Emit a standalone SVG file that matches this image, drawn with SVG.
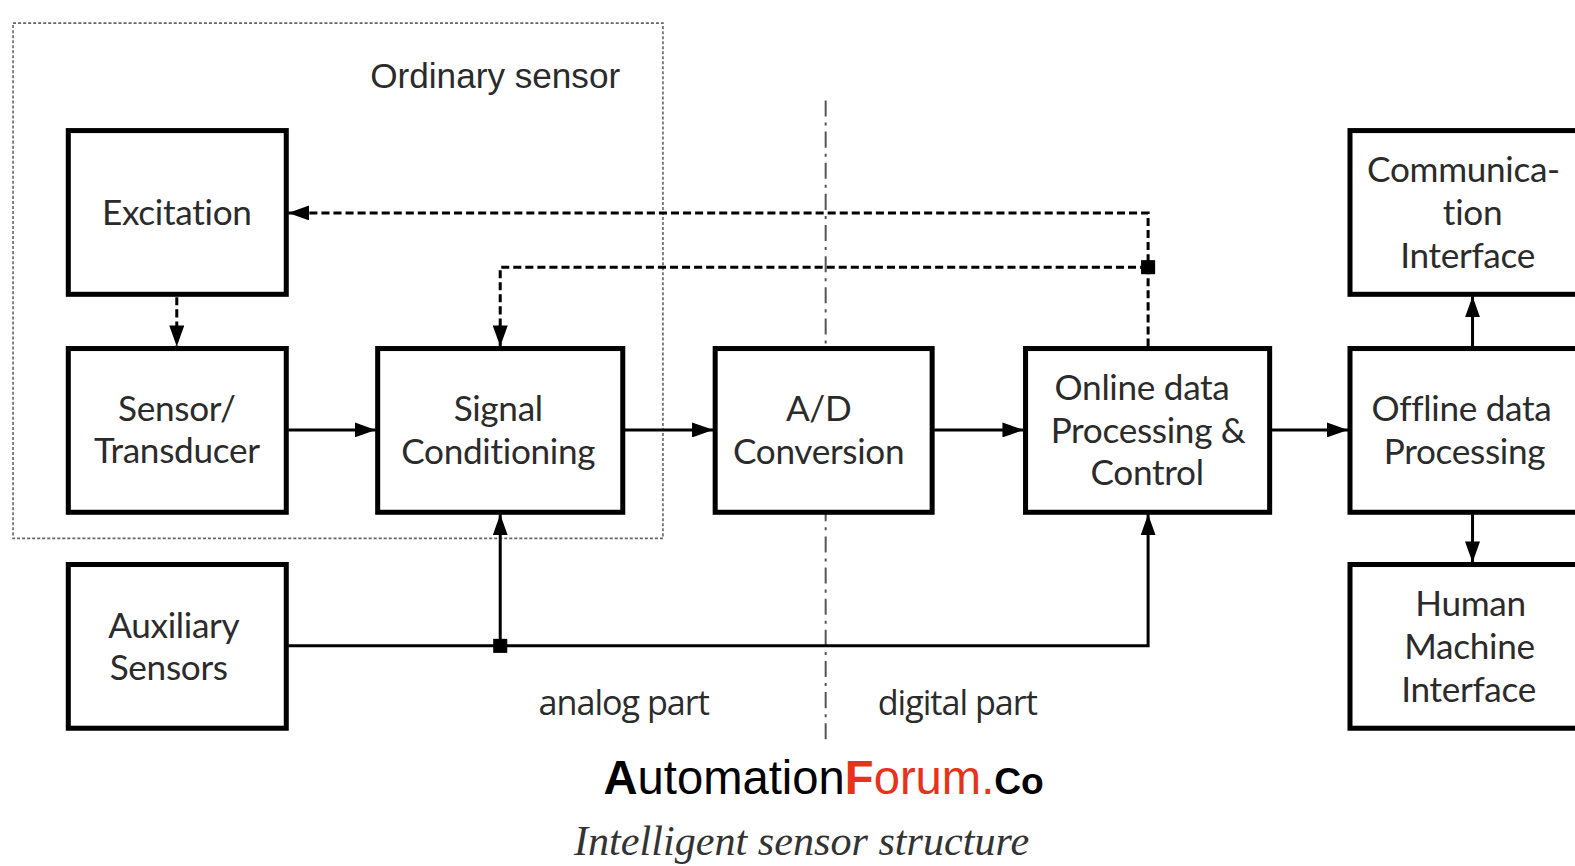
<svg xmlns="http://www.w3.org/2000/svg" width="1575" height="866" viewBox="0 0 1575 866">
  <style>
    .box { fill: #fff; stroke: #000; stroke-width: 5; }
    .lbl { font-family: Lato, "Open Sans", sans-serif; font-size: 35px; fill: #2b2b2b; text-anchor: middle; letter-spacing: -0.3px; }
    .wire { fill: none; stroke: #000; stroke-width: 3; }
    .dash { fill: none; stroke: #000; stroke-width: 3; stroke-dasharray: 8 4; }
    .frame { fill: none; stroke: #666; stroke-width: 1.6; stroke-dasharray: 3 2; }
    .divider { fill: none; stroke: #555; stroke-width: 2; stroke-dasharray: 16 6 3 6; }
    .note { font-family: "Open Sans", "Noto Sans", sans-serif; font-size: 34px; fill: #2b2b2b; text-anchor: middle; letter-spacing: -1px; }
    .title { font-family: "Liberation Sans", Arial, sans-serif; font-size: 35px; fill: #2b2b2b; text-anchor: middle; }
  </style>
  <defs>
    <marker id="arrow" viewBox="0 0 14 10" refX="14" refY="5" markerWidth="7" markerHeight="5" markerUnits="strokeWidth" orient="auto">
      <path d="M0,0 L14,5 L0,10 z" fill="#000"/>
    </marker>
  </defs>

  <rect width="1575" height="866" fill="#fff"/>

  <g transform="scale(1.00446)">
    <!-- ordinary sensor frame -->
    <g id="ordinary-sensor">
      <rect class="frame" x="13" y="23" width="647" height="513"/>
      <text class="title" x="493" y="88">Ordinary sensor</text>
    </g>

    <!-- analog / digital divider -->
    <g id="divider">
      <line class="divider" x1="822" y1="100" x2="822" y2="740"/>
      <text class="note" x="621" y="712">analog part</text>
      <text class="note" x="953" y="712">digital part</text>
    </g>

    <!-- connectors -->
    <g id="connectors">
      <line class="dash" x1="176" y1="296" x2="176" y2="345" marker-end="url(#arrow)"/>
      <line class="wire" x1="287" y1="428" x2="374" y2="428" marker-end="url(#arrow)"/>
      <line class="wire" x1="622" y1="428" x2="710" y2="428" marker-end="url(#arrow)"/>
      <line class="wire" x1="930" y1="428" x2="1019" y2="428" marker-end="url(#arrow)"/>
      <line class="wire" x1="1266" y1="428" x2="1342" y2="428" marker-end="url(#arrow)"/>
      <line class="wire" x1="1466" y1="345" x2="1466" y2="295" marker-end="url(#arrow)"/>
      <line class="wire" x1="1466" y1="512" x2="1466" y2="560" marker-end="url(#arrow)"/>
      <polyline class="dash" points="1143,345 1143,212 287,212" marker-end="url(#arrow)"/>
      <polyline class="dash" points="1143,266 498,266 498,345" marker-end="url(#arrow)"/>
      <polyline class="wire" points="287,643 1143,643 1143,512" marker-end="url(#arrow)"/>
      <line class="wire" x1="498" y1="643" x2="498" y2="512" marker-end="url(#arrow)"/>
      <rect x="491" y="636" width="14" height="14" fill="#000"/>
      <rect x="1136" y="259" width="14" height="14" fill="#000"/>
    </g>

    <g id="excitation">
      <rect class="box" x="68" y="130" width="217" height="163"/>
      <text class="lbl" x="176" y="224">Excitation</text>
    </g>
    <g id="sensor-transducer">
      <rect class="box" x="68" y="347" width="217" height="163"/>
      <text class="lbl" x="176" y="419">Sensor/</text>
      <text class="lbl" x="176" y="461">Transducer</text>
    </g>
    <g id="signal-conditioning">
      <rect class="box" x="376" y="347" width="244" height="163"/>
      <text class="lbl" x="496" y="419">Signal</text>
      <text class="lbl" x="496" y="462">Conditioning</text>
    </g>
    <g id="ad-conversion">
      <rect class="box" x="712" y="347" width="216" height="163"/>
      <text class="lbl" x="815" y="419">A/D</text>
      <text class="lbl" x="815" y="462">Conversion</text>
    </g>
    <g id="online-processing">
      <rect class="box" x="1021" y="347" width="243" height="163"/>
      <text class="lbl" x="1137" y="398">Online data</text>
      <text class="lbl" x="1143" y="441">Processing &amp;</text>
      <text class="lbl" x="1142" y="483">Control</text>
    </g>
    <g id="offline-processing">
      <rect class="box" x="1344" y="347" width="240" height="163"/>
      <text class="lbl" x="1455" y="419">Offline data</text>
      <text class="lbl" x="1458" y="462">Processing</text>
    </g>
    <g id="communication-interface">
      <rect class="box" x="1344" y="130" width="240" height="163"/>
      <text class="lbl" x="1457" y="181">Communica-</text>
      <text class="lbl" x="1466" y="224">tion</text>
      <text class="lbl" x="1461" y="267">Interface</text>
    </g>
    <g id="human-machine-interface">
      <rect class="box" x="1344" y="562" width="240" height="163"/>
      <text class="lbl" x="1464" y="613">Human</text>
      <text class="lbl" x="1463" y="656">Machine</text>
      <text class="lbl" x="1462" y="699">Interface</text>
    </g>
    <g id="auxiliary-sensors">
      <rect class="box" x="68" y="562" width="217" height="163"/>
      <text class="lbl" x="173" y="635">Auxiliary</text>
      <text class="lbl" x="168" y="677">Sensors</text>
    </g>

    <!-- brand and caption -->
    <g id="brand">
      <text x="820" y="790" text-anchor="middle" font-family="'Liberation Sans', Arial, sans-serif" font-size="47" fill="#000"><tspan font-weight="bold">A</tspan>utomation<tspan font-weight="bold" fill="#e8331c">F</tspan><tspan fill="#e8331c">orum</tspan><tspan fill="#e8331c">.</tspan><tspan font-weight="bold" font-size="37">Co</tspan></text>
      <text x="798" y="851" text-anchor="middle" font-family="'Liberation Serif', 'Times New Roman', serif" font-style="italic" font-size="42" fill="#333">Intelligent sensor structure</text>
    </g>
  </g>
</svg>
